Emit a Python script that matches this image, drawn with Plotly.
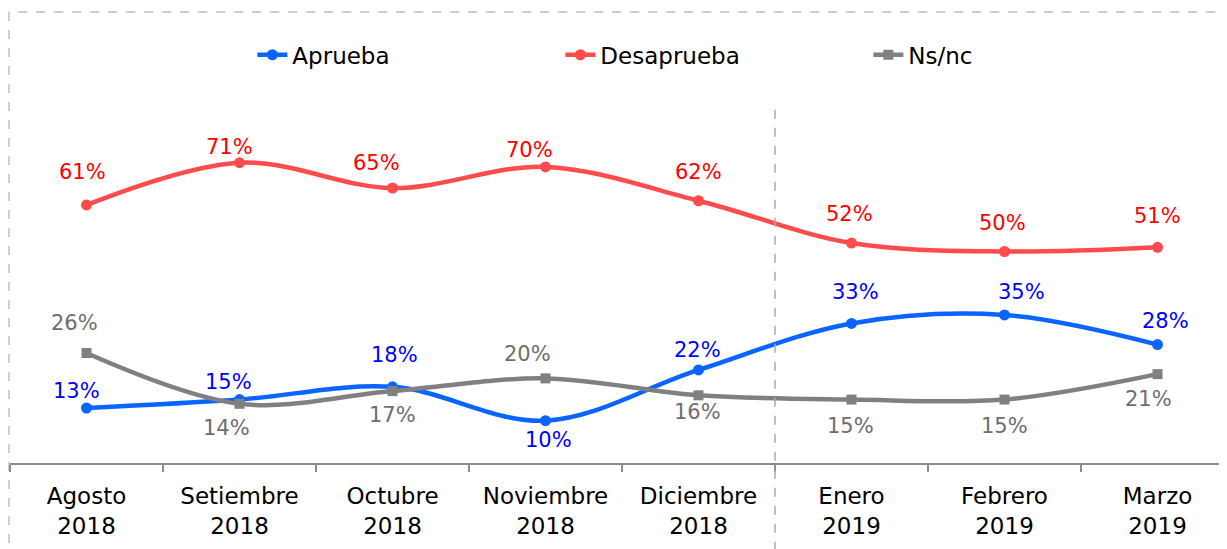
import plotly.graph_objects as go

categories = ["Agosto<br>2018", "Setiembre<br>2018", "Octubre<br>2018", "Noviembre<br>2018",
              "Diciembre<br>2018", "Enero<br>2019", "Febrero<br>2019", "Marzo<br>2019"]
aprueba = [13, 15, 18, 10, 22, 33, 35, 28]
desaprueba = [61, 71, 65, 70, 62, 52, 50, 51]
nsnc = [26, 14, 17, 20, 16, 15, 15, 21]

# label offsets in pixels (dx, dy screen-down positive)
ap_dx = [-10, -11, 2, 3, -1, 4, 17, 8]
ap_dy = [-17, -18, -32, 19, -20, -31, -23, -24]
de_dx = [-4, -10, -16, -16, 0, -2, -2, 0]
de_dy = [-33, -16, -25, -17, -29, -29, -29, -31]
ns_dx = [-12, -13, 0, -18, -1, -1, 0, -9]
ns_dy = [-30, 24, 24, -24, 17, 26, 26, 25]

FONT = "DejaVu Sans"
fig = go.Figure()
series = [
    ("Aprueba", aprueba, "#0A64FF", "#0000FF", "circle", 11, ap_dx, ap_dy),
    ("Desaprueba", desaprueba, "#FF4B4B", "#FF0000", "circle", 11, de_dx, de_dy),
    ("Ns/nc", nsnc, "#808080", "#6E6E6E", "square", 10, ns_dx, ns_dy),
]
annotations = []
for name, vals, lc, tc, sym, ms, dxs, dys in series:
    fig.add_trace(go.Scatter(
        x=categories, y=vals, name=name, mode="lines+markers",
        line=dict(color=lc, width=4.5, shape="spline", smoothing=1.0),
        marker=dict(color=lc, size=ms, symbol=sym),
    ))
    for c, v, dx, dy in zip(categories, vals, dxs, dys):
        annotations.append(dict(x=c, y=v, xref="x", yref="y", text=f"{v}%", showarrow=False,
                                xshift=dx, yshift=-dy, font=dict(family=FONT, size=21, color=tc)))

fig.update_layout(
    width=1227, height=549,
    margin=dict(l=2, r=1, t=32, b=94, autoexpand=False),
    paper_bgcolor="white", plot_bgcolor="white",
    font=dict(family=FONT, size=23, color="black"),
    showlegend=True,
    legend=dict(orientation="h", xref="paper", yref="paper", x=0.198, xanchor="left",
                y=0.965, yanchor="middle", entrywidth=263, font=dict(family=FONT, size=23, color="black"),
                bgcolor="rgba(0,0,0,0)"),
    annotations=annotations,
    xaxis=dict(type="category", range=[-0.5, 7.5], showline=True, linecolor="#8C8C8C", linewidth=1.5,
               ticks="outside", tickson="boundaries", ticklen=7, tickcolor="#8C8C8C", tickwidth=1.5,
               ticklabelstandoff=12,
               showgrid=False, zeroline=False, tickfont=dict(family=FONT, size=23, color="black")),
    yaxis=dict(range=[0, 100], visible=False, showgrid=False, zeroline=False),
    shapes=[
        dict(type="line", xref="x", yref="paper", x0=4.5, x1=4.5, y0=-0.25, y1=0.839,
             line=dict(color="#AAAAAA", width=1.5, dash="dash")),
        dict(type="rect", xref="paper", yref="paper", x0=-0.0008, x1=1.05, y0=-0.3, y1=1.066,
             line=dict(color="#BFBFBF", width=1.5, dash="dash"), layer="below"),
    ],
)
fig.write_html("out.html")
